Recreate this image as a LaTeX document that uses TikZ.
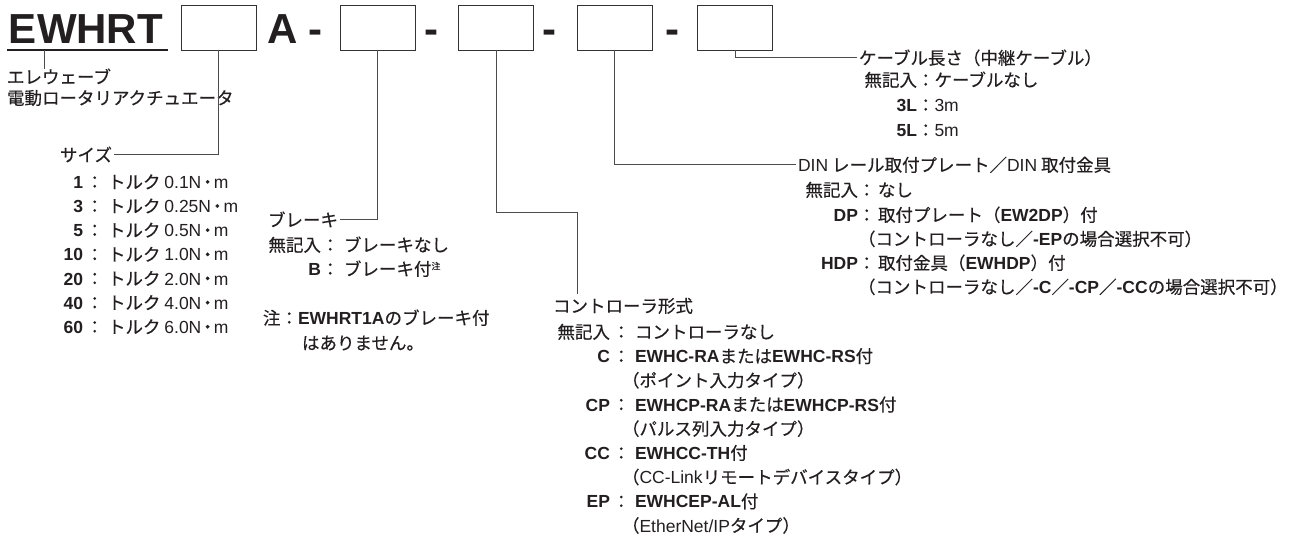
\documentclass[tikz,border=0pt]{standalone}
\usepackage{fontspec}
\setmainfont{Noto Sans CJK JP}[FakeBold=0.4]
\newfontfamily\lat{Liberation Sans}
\newcommand{\lt}[1]{{\lat #1}}
\newcommand{\bl}[1]{{\lat\bfseries #1}}
\newcommand{\chu}{\raisebox{6pt}{\fontsize{9}{9}\selectfont 注}}
\newcommand{\nm}{\lt{N}\kern-2.5pt・\kern-2.5pt\lt{m}}
\definecolor{ink}{HTML}{231F20}

\begin{document}
\begin{tikzpicture}[x=1pt,y=-1pt,
    every node/.style={inner sep=0pt,outer sep=0pt,text=ink,font=\fontsize{17.5}{21}\selectfont},
    big/.style={font=\fontsize{42}{42}\selectfont\lat\bfseries},
    codebox/.style={draw=black!80,line width=0.9pt,minimum width=75pt,minimum height=45pt},
    link/.style={draw=black!70,line width=0.8pt},
    head/.style={inner xsep=2pt},
    key/.style={anchor=base east,font=\fontsize{17.5}{21}\selectfont\lat\bfseries},
    val/.style={anchor=base west}]
    \useasboundingbox (0,0) rectangle (1301,538);

    % model code
    \node[big,anchor=base west] (ewhrt) at (9,43) {EWHRT};
    \draw[ink,line width=1.3pt] (7,50) -- (168,50);
    \node[codebox] (box1) at (218.5,27.5) {};
    \node[big,anchor=base west] (suffix) at (267,43) {A -};
    \node[codebox] (box2) at (377.5,27.5) {};
    \node[big,anchor=base] (dash1) at (431,43) {-};
    \node[codebox] (box3) at (496,27.5) {};
    \node[big,anchor=base] (dash2) at (549,43) {-};
    \node[codebox] (box4) at (614.5,27.5) {};
    \node[big,anchor=base] (dash3) at (672,43) {-};
    \node[codebox] (box5) at (735,27.5) {};

    % series
    \node[val] (maker1) at (7,83.5) {エレウェーブ};
    \node[val] (maker2) at (7,104.5) {電動ロータリアクチュエータ};
    \coordinate (tick) at (44,50);
    \draw[link] (tick) -- (tick |- maker1.north);

    % size
    \node[head,anchor=base east] (size) at (114,161.5) {サイズ};
    \foreach \sz/\tq [count=\i from 0] in {1/0.1,3/0.25,5/0.5,10/1.0,20/2.0,40/4.0,60/6.0} {
        \node[key] (sizek\i) at (83,188.5+24.15*\i) {\sz};
        \node[val] (sizev\i) at (86,188.5+24.15*\i) {：\hspace{4.5pt}トルク \lt{\tq}\nm};
    }
    \draw[link] (box1.south) |- (size.east);

    % brake
    \node[head,anchor=base east] (brake) at (340,226.5) {ブレーキ};
    \node[anchor=base east] (brakek0) at (321,251.5) {無記入};
    \node[val] (brakev0) at (321.5,251.5) {：\hspace{5pt}ブレーキなし};
    \node[key] (brakek1) at (321,275.5) {B};
    \node[val] (brakev1) at (321.5,275.5) {：\hspace{5pt}ブレーキ付\chu};
    \node[val] (note1) at (263,324.5) {注：\bl{EWHRT1A}のブレーキ付};
    \node[val] (note2) at (302,349.5) {はありません。};
    \draw[link] (box2.south) |- (brake.east);

    % controller
    \node[val] (ctrl) at (553,312.5) {コントローラ形式};
    \coordinate (ctrlbend) at (577,212);
    \draw[link,shorten >=4pt] (box3.south) |- (ctrlbend) -- (ctrlbend |- ctrl.north);
    \node[anchor=base east] (ctrlk0) at (610,338.5) {無記入};
    \node[val] (ctrlv0) at (612.5,338.5) {：\hspace{5pt}コントローラなし};
    \node[key] (ctrlk1) at (610,362.7) {C};
    \node[val] (ctrlv1) at (612.5,362.7) {：\hspace{5pt}\bl{EWHC-RA}または\bl{EWHC-RS}付};
    \node[val] (ctrlp1) at (622,386.9) {（ポイント入力タイプ）};
    \node[key] (ctrlk2) at (610,411.1) {CP};
    \node[val] (ctrlv2) at (612.5,411.1) {：\hspace{5pt}\bl{EWHCP-RA}または\bl{EWHCP-RS}付};
    \node[val] (ctrlp2) at (622,435.3) {（パルス列入力タイプ）};
    \node[key] (ctrlk3) at (610,459.5) {CC};
    \node[val] (ctrlv3) at (612.5,459.5) {：\hspace{5pt}\bl{EWHCC-TH}付};
    \node[val] (ctrlp3) at (622,483.7) {（\lt{CC-Link}リモートデバイスタイプ）};
    \node[key] (ctrlk4) at (610,507.9) {EP};
    \node[val] (ctrlv4) at (612.5,507.9) {：\hspace{5pt}\bl{EWHCEP-AL}付};
    \node[val] (ctrlp4) at (622,532.1) {（\lt{EtherNet/IP}タイプ）};

    % DIN plate
    \node[head,anchor=base west] (din) at (796,171.5) {\lt{DIN} レール取付プレート／\lt{DIN} 取付金具};
    \draw[link] (box4.south) |- (din.west);
    \node[anchor=base east] (dink0) at (858,196.5) {無記入};
    \node[val] (dinv0) at (858,196.5) {：\hspace{2.5pt}なし};
    \node[key] (dink1) at (858,221.5) {DP};
    \node[val] (dinv1) at (858,221.5) {：\hspace{2.5pt}取付プレート（\bl{EW2DP}）付};
    \node[val] (dinp1) at (858,245.5) {（コントローラなし／\bl{-EP}の場合選択不可）};
    \node[key] (dink2) at (858,269.5) {HDP};
    \node[val] (dinv2) at (858,269.5) {：\hspace{2.5pt}取付金具（\bl{EWHDP}）付};
    \node[val] (dinp2) at (858,293.5) {（コントローラなし／\bl{-C}／\bl{-CP}／\bl{-CC}の場合選択不可）};

    % cable
    \node[head,anchor=base west] (cable) at (857,64.5) {ケーブル長さ（中継ケーブル）};
    \draw[link] (box5.south) |- (cable.west);
    \node[anchor=base east] (cablek0) at (917,86.5) {無記入};
    \node[val] (cablev0) at (917,86.5) {：ケーブルなし};
    \node[key] (cablek1) at (917,111.5) {3L};
    \node[val] (cablev1) at (917,111.5) {：\lt{3m}};
    \node[key] (cablek2) at (917,136.5) {5L};
    \node[val] (cablev2) at (917,136.5) {：\lt{5m}};
\end{tikzpicture}
\end{document}
